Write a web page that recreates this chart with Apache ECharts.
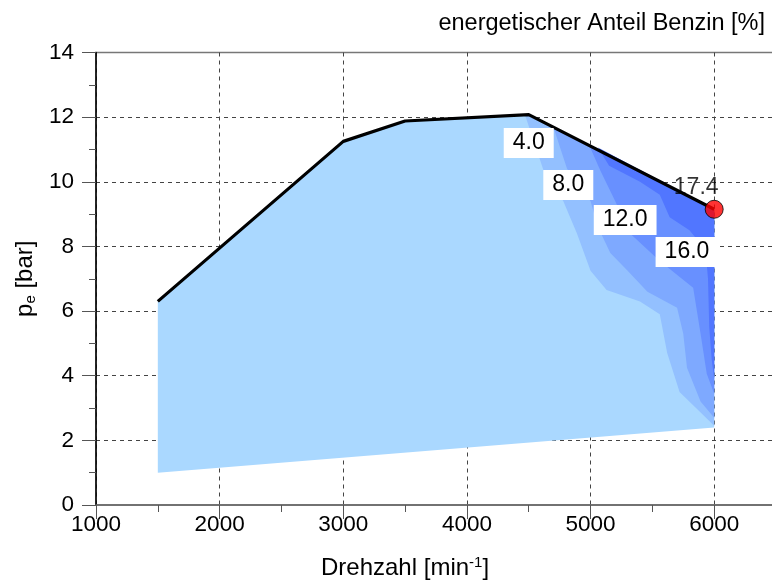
<!DOCTYPE html>
<html>
<head>
<meta charset="utf-8">
<script src="https://cdn.jsdelivr.net/npm/echarts@6/dist/echarts.min.js"></script>
<style>
  html, body { margin: 0; padding: 0; background: #fff; }
  #chart { width: 772px; height: 581px; }
</style>
</head>
<body>
<div id="chart"></div>
<script>
// Full-load curve (engine speed in min^-1, BMEP in bar)
const fullLoadX = [1500, 3000, 3500, 4500, 6000];
const fullLoadY = [6.3, 11.25, 11.88, 12.08, 9.15];

// Lower boundary of the measured map
const lowerX = [1500, 6000];
const lowerY = [1.0, 2.4];

// Iso-lines of the energetic gasoline share, drawn from the full-load curve down to the 6000 rpm edge
const iso4X = [4470, 4620, 4780, 4890, 5000, 5130, 5400, 5560, 5620, 5720, 5880, 6000];
const iso4Y = [12.07, 10.35, 9.4, 8.4, 7.25, 6.65, 6.3, 5.9, 4.7, 3.5, 2.9, 2.45];

const iso8X = [4700, 4810, 5000, 5060, 5160, 5300, 5460, 5700, 5750, 5780, 5890, 6000];
const iso8Y = [11.69, 10.4, 9.4, 8.6, 7.8, 7.25, 6.6, 6.1, 5.3, 4.25, 3.2, 2.7];

const iso12X = [4990, 5080, 5200, 5320, 5560, 5830, 5890, 5940, 6000];
const iso12Y = [11.12, 10.34, 9.4, 8.4, 7.55, 6.72, 5.3, 4.06, 3.44];

const iso16X = [5060, 5150, 5400, 5560, 5640, 5800, 5930, 5950, 5960, 5980, 6000];
const iso16Y = [11.06, 10.5, 10.0, 9.6, 8.9, 8.5, 7.9, 7.0, 5.5, 4.5, 3.9];

// Label positions and values of the iso-lines
const isoLabelX = [4500, 4820, 5280, 5780];
const isoLabelY = [11.2, 9.9, 8.82, 7.83];
const isoLabelVal = [4.0, 8.0, 12.0, 16.0];

// Maximum point
const maxX = [6000];
const maxY = [9.15];
const maxVal = [17.4];

// Axis ticks
const xTicks = [1000, 2000, 3000, 4000, 5000, 6000];
const yTicks = [0, 2, 4, 6, 8, 10, 12, 14];

const bandColors = ['#aad8ff', '#93c0ff', '#7ea9ff', '#6890ff', '#5176ff'];
const FONT = 'Liberation Sans, Arial, sans-serif';

function zip(xs, ys) { return xs.map((x, i) => [x, ys[i]]); }

// Whole operating map: full-load curve, right edge, lower boundary
const mapOutline = zip(fullLoadX, fullLoadY).concat(zip(lowerX, lowerY).reverse());

// Region at or above an iso-level: iso-line, up the right edge, back along the full-load curve
function regionAbove(ix, iy) {
  const pts = zip(ix, iy);
  for (let i = fullLoadX.length - 1; i >= 0; i--) {
    if (fullLoadX[i] > ix[0]) pts.push([fullLoadX[i], fullLoadY[i]]);
  }
  return pts;
}

const regions = [
  mapOutline,
  regionAbove(iso4X, iso4Y),
  regionAbove(iso8X, iso8Y),
  regionAbove(iso12X, iso12Y),
  regionAbove(iso16X, iso16Y)
];

const regionSeries = regions.map((poly, k) => ({
  type: 'custom',
  silent: true,
  z: 1 + k,
  data: [0],
  renderItem: function (params, api) {
    return {
      type: 'polygon',
      shape: { points: poly.map(p => api.coord(p)) },
      style: { fill: bandColors[k], stroke: null }
    };
  }
}));

const chart = echarts.init(document.getElementById('chart'), null, { renderer: 'canvas' });

chart.setOption({
  animation: false,
  backgroundColor: '#fff',
  textStyle: { fontFamily: FONT },
  title: {
    text: 'energetischer Anteil Benzin [%]',
    right: 2,
    top: 7,
    textStyle: { fontFamily: FONT, fontSize: 23.5, fontWeight: 'normal', color: '#000' }
  },
  grid: {
    left: 96, top: 52.5, width: 680, height: 452.5,
    outerBoundsMode: 'none',
    containLabel: false,
    show: true, borderColor: '#777', borderWidth: 1.5, backgroundColor: 'transparent'
  },
  xAxis: {
    type: 'value',
    min: 1000, max: 6500, interval: 1000,
    axisLine: { show: true, onZero: false, lineStyle: { color: '#666', width: 1.5 } },
    axisTick: { show: true, inside: false, length: 14, lineStyle: { color: '#555', width: 1 } },
    minorTick: { show: true, splitNumber: 2, length: 7, lineStyle: { color: '#555', width: 1 } },
    axisLabel: {
      margin: 8, fontSize: 22.5, color: '#000', fontFamily: FONT,
      formatter: v => (xTicks.indexOf(v) >= 0 ? String(v) : '')
    },
    splitLine: { show: true, lineStyle: { color: '#444', type: [4, 4], width: 1 } }
  },
  yAxis: {
    type: 'value',
    min: 0, max: 14, interval: 2,
    name: 'p{sub|e} [bar]',
    nameLocation: 'middle',
    nameRotate: 90,
    nameGap: 56,
    nameTextStyle: {
      fontFamily: FONT, fontSize: 24, color: '#000',
      rich: { sub: { fontFamily: FONT, fontSize: 15, color: '#000', padding: [10, 0, 0, 0] } }
    },
    axisLine: { show: true, onZero: false, lineStyle: { color: '#000', width: 1.5 } },
    axisTick: { show: true, inside: false, length: 14, lineStyle: { color: '#555', width: 1 } },
    minorTick: { show: true, splitNumber: 2, length: 7, lineStyle: { color: '#555', width: 1 } },
    axisLabel: {
      margin: 22, fontSize: 22.5, color: '#000', fontFamily: FONT,
      formatter: v => (yTicks.indexOf(v) >= 0 ? String(v) : '')
    },
    splitLine: { show: true, showMinLine: false, showMaxLine: false,
      lineStyle: { color: '#444', type: [4, 4], width: 1 } }
  },
  graphic: [{
    type: 'text',
    left: 321,
    top: 555,
    style: {
      text: 'Drehzahl [min{sup|-1}]',
      font: '24px ' + FONT,
      fill: '#000',
      rich: { sup: { fontFamily: FONT, fontSize: 15, fill: '#000', padding: [0, 0, 11, 0] } }
    }
  }],
  series: regionSeries.concat([
    {
      type: 'line',
      z: 10,
      data: zip(fullLoadX, fullLoadY),
      symbol: 'none',
      lineStyle: { color: '#000', width: 3.2 },
      silent: true
    },
    {
      type: 'custom',
      z: 11,
      silent: true,
      data: zip(isoLabelX, isoLabelY),
      renderItem: function (params, api) {
        const p = api.coord([api.value(0), api.value(1)]);
        return {
          type: 'text',
          x: p[0], y: p[1],
          style: {
            text: isoLabelVal[params.dataIndex].toFixed(1),
            font: '23px ' + FONT,
            fill: '#000',
            align: 'center',
            verticalAlign: 'middle',
            backgroundColor: '#fff',
            padding: [4, 9, 3, 9]
          }
        };
      }
    },
    {
      type: 'scatter',
      z: 12,
      data: maxX.map((x, i) => [x, maxY[i], maxVal[i]]),
      symbol: 'circle',
      symbolSize: 18,
      itemStyle: { color: '#ff0000', borderColor: '#000', borderWidth: 1 },
      label: {
        show: true,
        position: 'top',
        distance: 1,
        offset: [-18, 0],
        formatter: p => p.value[2].toFixed(1),
        fontFamily: FONT, fontSize: 23, color: '#000'
      },
      silent: true
    }
  ])
});
</script>
</body>
</html>
